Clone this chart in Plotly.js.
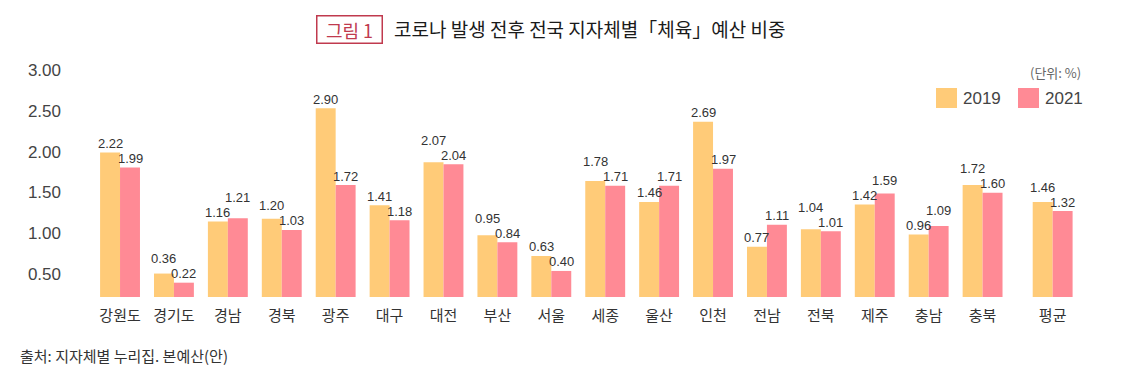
<!DOCTYPE html>
<html><head><meta charset="utf-8">
<script src="https://cdn.plot.ly/plotly-3.0.1.min.js"></script>
<style>html,body{margin:0;padding:0;background:#fff}#chart{width:1135px;height:376px}</style>
</head><body><div id="chart"></div>
<script>
const categories = ['강원도','경기도','경남','경북','광주','대구','대전','부산','서울','세종','울산','인천','전남','전북','제주','충남','충북','평균'];
const values2019 = [2.22,0.36,1.16,1.20,2.90,1.41,2.07,0.95,0.63,1.78,1.46,2.69,0.77,1.04,1.42,0.96,1.72,1.46];
const values2021 = [1.99,0.22,1.21,1.03,1.72,1.18,2.04,0.84,0.40,1.71,1.71,1.97,1.11,1.01,1.59,1.09,1.60,1.32];
const seriesNames = ['2019','2021'];
const yTickVals = [0.5,1.0,1.5,2.0,2.5,3.0];
const yTickText = ['0.50','1.00','1.50','2.00','2.50','3.00'];

const colors = ['#FFCB78','#FF8A95'];
const xs = categories.map((c,i)=> i + (c==='평균' ? 0.3 : 0));
const labFont = {family:'"Liberation Sans",Arial,sans-serif', size:13, color:'#333'};
const bargap = 0.26;
const plotH = 237, y2Max = 3.64, pxPerUnit = plotH / y2Max;

const mk = (vals, name, color) => ({
  type:'bar', x:xs, y:vals, name:name, yaxis:'y2',
  marker:{color:color, line:{width:0}}, hoverinfo:'skip'
});
const traces = [
  {type:'scatter', mode:'none', x:[xs[0]], y:[yTickVals[0]], yaxis:'y', hoverinfo:'skip', showlegend:false},
  mk(values2019, seriesNames[0], colors[0]), mk(values2021, seriesNames[1], colors[1])];

const shapes = [];
const annotations = [];
// value labels: centred above each bar; the label of the taller bar is lifted when the pair would collide
const halfBar = (1 - bargap) / 4, baseShift = 9, minSep = 15;
xs.forEach((x,i)=>{
  const a = values2019[i], b = values2021[i];
  const sep = Math.abs(a - b) * pxPerUnit;
  const lift = sep < minSep ? (minSep - sep) : 0;
  const liftA = a >= b ? lift : 0, liftB = a >= b ? 0 : lift;
  annotations.push({xref:'x',yref:'y2',x:x-halfBar,y:a,text:a.toFixed(2),showarrow:false,
    xanchor:'center',yanchor:'middle',yshift:baseShift+liftA,font:labFont});
  annotations.push({xref:'x',yref:'y2',x:x+halfBar,y:b,text:b.toFixed(2),showarrow:false,
    xanchor:'center',yanchor:'middle',yshift:baseShift+liftB,font:labFont});
});
const pageAnn = (x,y,text,font,xanchor,extra) => Object.assign({
  xref:'paper',yref:'paper',x:(x-70)/1015,y:(297-y)/237,text:text,font:font,
  showarrow:false,xanchor:xanchor||'left',yanchor:'middle'}, extra||{});
const kfont = '"Noto Sans CJK KR","Noto Sans",sans-serif';
annotations.push(pageAnn(349.5,29,'그림 1',{family:kfont,size:18,color:'#C03A4E'},'center',
  {bordercolor:'#C03A4E',borderwidth:1.5,borderpad:1,width:62,height:24}));
annotations.push(pageAnn(392,28,'코로나 발생 전후 전국 지자체별「체육」예산 비중',{family:kfont,size:19,color:'#1a1a1a'},'left'));
annotations.push(pageAnn(1083,72,'(단위: %)',{family:kfont,size:13,color:'#666'},'right'));
annotations.push(pageAnn(18,355,'출처: 지자체별 누리집. 본예산(안)',{family:kfont,size:15,color:'#333'},'left'));
// legend
const legItems = [[936,seriesNames[0],colors[0]],[1018,seriesNames[1],colors[1]]];
legItems.forEach(([lx,name,col])=>{
  shapes.push({type:'rect',xref:'paper',yref:'paper',x0:(lx-70)/1015,x1:(lx+21-70)/1015,
    y0:(297-108)/237,y1:(297-88)/237,fillcolor:col,line:{width:0}});
  annotations.push(pageAnn(lx+25,98,name,{family:'"Liberation Sans",Arial,sans-serif',size:17,color:'#444'},'left'));
});

const layout = {
  width:1135, height:376,
  margin:{l:70,r:50,t:60,b:79},
  paper_bgcolor:'#fff', plot_bgcolor:'#fff',
  showlegend:false,
  barmode:'group', bargap:bargap, bargroupgap:0,
  xaxis:{range:[-0.928,17.90], tickvals:xs, ticktext:categories, showgrid:false, zeroline:false,
    showline:false, ticks:'', ticklabelstandoff:8,
    tickfont:{family:kfont,size:15,color:'#333'}},
  yaxis:{range:[0.218,3.1225], tickvals:yTickVals, ticktext:yTickText, showgrid:false, zeroline:false,
    showline:false, ticks:'', ticklabelstandoff:8,
    tickfont:{family:'"Liberation Sans",Arial,sans-serif',size:17,color:'#444'}},
  yaxis2:{range:[0,y2Max], overlaying:'y', visible:false, showgrid:false, zeroline:false},
  shapes:shapes, annotations:annotations
};
Plotly.newPlot('chart', traces, layout, {displayModeBar:false, staticPlot:true});
</script></body></html>
